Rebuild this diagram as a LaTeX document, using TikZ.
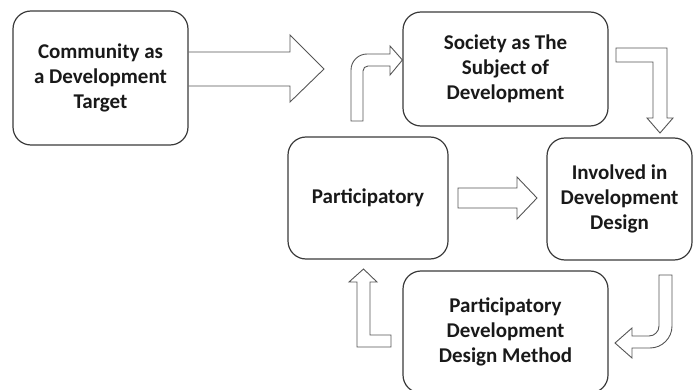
\documentclass[tikz,border=0pt]{standalone}
\usepackage{fontspec}
\setmainfont{Carlito}
\usetikzlibrary{positioning}

\definecolor{boxline}{HTML}{3A3A3A}
\definecolor{arrline}{HTML}{555555}

\tikzset{
    box/.style={draw=boxline, line width=1.2pt, rounded corners=18pt, align=center,
        font=\bfseries\fontsize{21}{25}\selectfont, text=black!90, inner sep=0pt},
    blockarrow/.style={draw=arrline, line width=0.9pt, line join=miter},
}

\begin{document}
\begin{tikzpicture}[x=1pt, y=-1pt]
    \useasboundingbox (0,0) rectangle (693,390);
    \clip (0,0) rectangle (693,390);

    % boxes
    \node[box, minimum width=175pt, minimum height=134pt] (comm) at (100.5,78) {Community as\\a Development\\Target};
    \node[box, minimum width=205pt, minimum height=114pt] (society) at (505.5,69) {Society as The\\Subject of\\Development};
    \node[box, minimum width=160pt, minimum height=122pt] (partic) at (368,198) {Participatory};
    \node[box, minimum width=145pt, minimum height=122pt] (involved) at (619.5,199) {Involved in\\Development\\Design};
    \node[box, minimum width=205pt, minimum height=122pt] (method) at (505.5,332) {Participatory\\Development\\Design Method};

    % community -> society
    \draw[blockarrow] ([yshift=26pt]comm.east) -- (290,52) -- (290,35) -- (324,69)
        -- (290,102) -- (290,86) -- ([yshift=-8pt]comm.east);

    % participatory -> society
    \draw[blockarrow] (351,121) -- (351,70) .. controls (351,61.2) and (358.2,54) .. (367,54)
        -- (390,54) -- (390,46) -- ([yshift=9pt]society.west) -- (390,75) -- (390,66) -- (368,66)
        .. controls (365.2,66) and (363,68.2) .. (363,71) -- (363,121) -- cycle;

    % society -> involved
    \draw[blockarrow] (616,48) -- (667,48) -- (667,118) -- (673,118) -- (660,133)
        -- (647,118) -- (653,118) -- (653,62) -- (616,62) -- cycle;

    % participatory -> involved
    \draw[blockarrow] (458,188) -- (517,188) -- (517,177) -- (537,198) -- (517,219)
        -- (517,208) -- (458,208) -- cycle;

    % involved -> method
    \draw[blockarrow] (659,275) -- (672,275) -- (672,326) .. controls (672,338.1) and (662.1,348) .. (650,348)
        -- (632,348) -- (632,358) -- (615,343) -- (632,328) -- (632,336) -- (649,336)
        .. controls (654.5,336) and (659,331.5) .. (659,326) -- cycle;

    % method -> participatory
    \draw[blockarrow] (391,335) -- (370,335) -- (370,282) -- (377,282) -- (363.5,269)
        -- (349,282) -- (357,282) -- (357,347) -- (391,347) -- cycle;
\end{tikzpicture}
\end{document}
